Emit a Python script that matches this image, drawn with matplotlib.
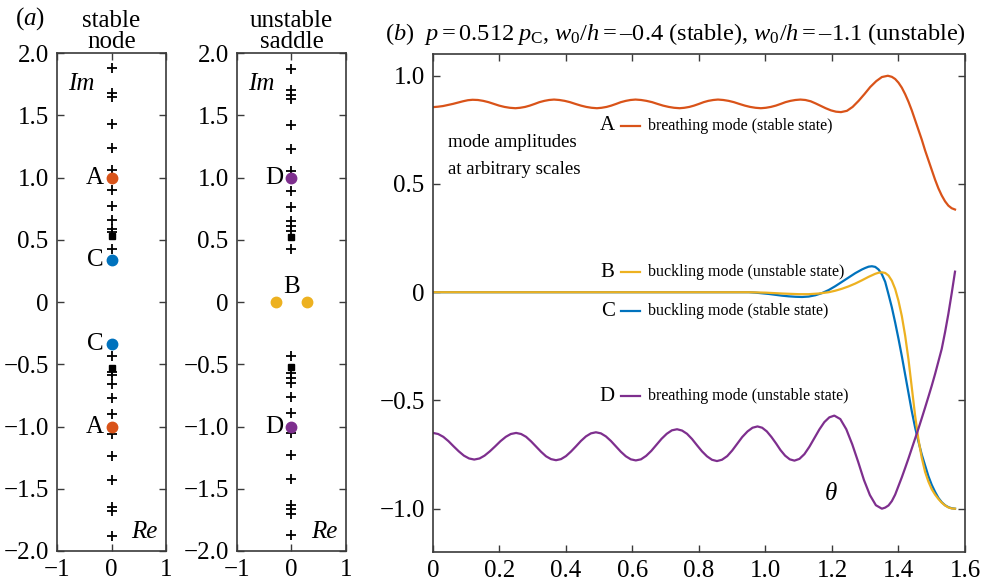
import matplotlib
matplotlib.use("Agg")
import matplotlib.pyplot as plt

plt.rcParams['font.family'] = ['Liberation Serif', 'DejaVu Serif']
plt.rcParams['mathtext.fontset'] = 'custom'
plt.rcParams['mathtext.rm'] = 'Liberation Serif'
plt.rcParams['mathtext.it'] = 'Liberation Serif:italic'

# colours (matlab defaults)
c_A = "#D95319"
c_B = "#EDB120"
c_C = "#0072BD"
c_D = "#7E2F8E"

# panel (a): imaginary parts of eigenvalues (conjugate pairs, Re = 0)
stable_plus = [1.88, 1.68, 1.65, 1.43, 1.24, 1.06, 0.90, 0.77, 0.66, 0.59, 0.56, 0.43]
stable_square = [0.53]
stable_A = [1.0]
stable_C = [0.335]

unstable_plus = [1.87, 1.70, 1.665, 1.63, 1.42, 1.23, 1.05, 0.89, 0.76, 0.65, 0.61, 0.57, 0.43]
unstable_square = [0.52]
unstable_D = [1.0]
unstable_B_re = [-0.29, 0.29]

# panel (b): mode shapes vs theta
th_A = [0.0, 0.015, 0.03, 0.045, 0.06, 0.075, 0.09, 0.105, 0.119,
        0.135, 0.151, 0.167, 0.183, 0.199, 0.215, 0.231, 0.248,
        0.262, 0.277, 0.291, 0.306, 0.320, 0.335, 0.349, 0.364,
        0.380, 0.396, 0.412, 0.428, 0.445, 0.461, 0.477, 0.493,
        0.507, 0.522, 0.536, 0.551, 0.565, 0.580, 0.594, 0.609,
        0.626, 0.642, 0.659, 0.675, 0.692, 0.709, 0.725, 0.742,
        0.756, 0.771, 0.785, 0.800, 0.814, 0.828, 0.843, 0.857,
        0.873, 0.889, 0.905, 0.921, 0.938, 0.954, 0.970, 0.986,
        1.001, 1.016, 1.031, 1.046, 1.060, 1.075, 1.090, 1.105,
        1.120, 1.136, 1.151, 1.166, 1.181, 1.197, 1.212, 1.227,
        1.245, 1.262, 1.280, 1.298, 1.315, 1.333, 1.350, 1.368,
        1.38, 1.39, 1.40, 1.41, 1.42, 1.43, 1.44, 1.45, 1.46, 1.47, 1.48, 1.49,
        1.50, 1.51, 1.52, 1.53, 1.54, 1.55, 1.56, 1.57]
amp_A = [0.855, 0.857, 0.860, 0.865, 0.870, 0.876, 0.882, 0.887, 0.889,
         0.888, 0.884, 0.878, 0.870, 0.862, 0.856, 0.852, 0.850,
         0.852, 0.856, 0.862, 0.870, 0.878, 0.884, 0.888, 0.890,
         0.888, 0.884, 0.878, 0.870, 0.862, 0.856, 0.852, 0.850,
         0.852, 0.856, 0.862, 0.870, 0.878, 0.884, 0.888, 0.890,
         0.888, 0.884, 0.878, 0.870, 0.862, 0.856, 0.852, 0.850,
         0.852, 0.856, 0.862, 0.870, 0.878, 0.884, 0.888, 0.890,
         0.888, 0.884, 0.878, 0.870, 0.862, 0.856, 0.852, 0.850,
         0.852, 0.856, 0.862, 0.870, 0.878, 0.884, 0.888, 0.890,
         0.888, 0.882, 0.872, 0.861, 0.850, 0.840, 0.834, 0.832,
         0.838, 0.856, 0.884, 0.916, 0.948, 0.975, 0.994, 1.000,
         0.995, 0.985, 0.968, 0.945, 0.915, 0.880, 0.840, 0.795, 0.750, 0.705, 0.655, 0.610,
         0.565, 0.520, 0.480, 0.447, 0.420, 0.400, 0.388, 0.382]

th_B = [0.0, 0.5, 0.95, 1.0, 1.05, 1.10, 1.13, 1.16, 1.19, 1.21, 1.23, 1.25, 1.27, 1.29, 1.31,
        1.33, 1.34, 1.35, 1.36, 1.37, 1.38, 1.39, 1.40, 1.41, 1.42, 1.43, 1.44, 1.45, 1.46,
        1.47, 1.48, 1.49, 1.50, 1.51, 1.52, 1.53, 1.54, 1.55, 1.56, 1.57]
amp_B = [0.0, 0.0, 0.0, -0.002, -0.006, -0.009, -0.009, -0.006, 0.0, 0.007, 0.016, 0.027, 0.040, 0.055, 0.071,
         0.085, 0.090, 0.092, 0.089, 0.077, 0.053, 0.015, -0.040, -0.110, -0.200, -0.310, -0.440, -0.570, -0.680,
         -0.765, -0.830, -0.875, -0.910, -0.935, -0.955, -0.972, -0.985, -0.994, -0.999, -1.0]

th_C = [0.0, 0.5, 0.95, 0.97, 0.99, 1.01, 1.03, 1.05, 1.07, 1.09, 1.11, 1.13, 1.15, 1.17, 1.19,
        1.21, 1.23, 1.25, 1.27, 1.29, 1.30, 1.31, 1.32, 1.33, 1.34, 1.35, 1.36, 1.37, 1.38,
        1.39, 1.40, 1.41, 1.42, 1.43, 1.44, 1.45, 1.46, 1.47, 1.48, 1.49, 1.50, 1.51, 1.52,
        1.53, 1.54, 1.55, 1.56, 1.57]
amp_C = [0.0, 0.0, 0.0, -0.002, -0.005, -0.008, -0.012, -0.016, -0.019, -0.021, -0.022, -0.020, -0.014, -0.004, 0.010,
         0.028, 0.048, 0.068, 0.088, 0.105, 0.112, 0.118, 0.120, 0.117, 0.105, 0.083, 0.048, -0.010, -0.070,
         -0.140, -0.215, -0.295, -0.380, -0.465, -0.550, -0.625, -0.690, -0.750, -0.800, -0.850, -0.890, -0.922, -0.950,
         -0.970, -0.984, -0.993, -0.998, -1.0]

th_D = [0.0, 0.0155, 0.031, 0.0465, 0.062, 0.0775, 0.093, 0.1085, 0.124,
        0.140, 0.155, 0.171, 0.187, 0.203, 0.219, 0.234, 0.25,
        0.265, 0.28, 0.295, 0.31, 0.325, 0.34, 0.355, 0.37,
        0.385, 0.40, 0.415, 0.43, 0.445, 0.46, 0.475, 0.49,
        0.505, 0.52, 0.535, 0.55, 0.565, 0.58, 0.595, 0.61,
        0.6255, 0.641, 0.6565, 0.672, 0.6875, 0.703, 0.7185, 0.734,
        0.749, 0.764, 0.779, 0.794, 0.809, 0.824, 0.839, 0.854,
        0.869, 0.885, 0.900, 0.915, 0.930, 0.946, 0.961, 0.976,
        0.990, 1.004, 1.018, 1.032, 1.045, 1.059, 1.073, 1.087,
        1.102, 1.117, 1.132, 1.147, 1.162, 1.177, 1.192, 1.207,
        1.225, 1.243, 1.261, 1.279, 1.296, 1.314, 1.332, 1.35,
        1.36, 1.37, 1.38, 1.39, 1.40, 1.41, 1.42, 1.43, 1.44, 1.45, 1.46, 1.47,
        1.48, 1.49, 1.50, 1.51, 1.52, 1.53, 1.54, 1.55, 1.56, 1.57]
amp_D = [-0.650, -0.655, -0.668, -0.688, -0.712, -0.735, -0.755, -0.768, -0.773,
         -0.768, -0.755, -0.735, -0.712, -0.688, -0.668, -0.655, -0.650,
         -0.655, -0.668, -0.689, -0.713, -0.737, -0.758, -0.771, -0.776,
         -0.771, -0.757, -0.736, -0.712, -0.687, -0.666, -0.652, -0.647,
         -0.652, -0.666, -0.687, -0.712, -0.737, -0.758, -0.772, -0.777,
         -0.772, -0.756, -0.733, -0.705, -0.677, -0.654, -0.638, -0.633,
         -0.639, -0.654, -0.678, -0.707, -0.735, -0.758, -0.774, -0.780,
         -0.774, -0.757, -0.731, -0.700, -0.669, -0.643, -0.626, -0.620,
         -0.626, -0.643, -0.669, -0.699, -0.729, -0.755, -0.772, -0.778,
         -0.770, -0.748, -0.714, -0.674, -0.634, -0.600, -0.578, -0.570,
         -0.586, -0.633, -0.703, -0.785, -0.867, -0.937, -0.984, -1.000,
         -0.995, -0.985, -0.965, -0.935, -0.895, -0.855, -0.812, -0.768, -0.722, -0.676, -0.630, -0.582,
         -0.533, -0.483, -0.432, -0.378, -0.320, -0.262, -0.185, -0.100, -0.005, 0.095]

legend_labels = ["breathing mode (stable state)", "buckling mode (unstable state)",
                 "buckling mode (stable state)", "breathing mode (unstable state)"]
legend_letters = ["A", "B", "C", "D"]
legend_y = [0.769, 0.093, -0.088, -0.48]

FS = 18
edge = "#3a3a3a"


def style(ax):
    for s in ax.spines.values():
        s.set_color(edge)
        s.set_linewidth(1.2)
    ax.tick_params(direction="in", top=True, right=True, length=5, width=1.0,
                   color=edge, labelsize=FS, pad=6)


fig = plt.figure(figsize=(9.87, 5.83), dpi=100)
axA = fig.add_axes([0.0578, 0.0549, 0.1104, 0.854])
axS = fig.add_axes([0.2401, 0.0549, 0.1104, 0.854])
axB = fig.add_axes([0.4387, 0.0532, 0.539, 0.854])

for ax in (axA, axS):
    style(ax)
    ax.set_xlim(-1, 1)
    ax.set_ylim(-2, 2)
    ax.set_xticks([-1, 0, 1])
    ax.set_xticklabels(["\u22121", "0", "1"])
    ax.set_yticks([-2, -1.5, -1, -0.5, 0, 0.5, 1, 1.5, 2])
    ax.set_yticklabels(["\u22122.0", "\u22121.5", "\u22121.0", "\u22120.5", "0", "0.5", "1.0", "1.5", "2.0"])
    ax.text(-0.8, 1.75, "Im", style="italic", fontsize=FS, ha="left", va="center")
    ax.text(0.85, -1.85, "Re", style="italic", fontsize=FS, ha="right", va="center")

# stable node
for sgn in (1, -1):
    axA.plot([0] * len(stable_plus), [sgn * v for v in stable_plus], "k+", ms=7, mew=1.3)
    axA.plot([0], [sgn * stable_square[0]], "ks", ms=5)
    axA.plot([0], [sgn * stable_A[0]], "o", color=c_A, ms=7.5)
    axA.plot([0], [sgn * stable_C[0]], "o", color=c_C, ms=7.5)
    axA.text(-0.15, sgn * stable_A[0], "A", fontsize=FS, ha="right", va="center")
    axA.text(-0.15, sgn * stable_C[0], "C", fontsize=FS, ha="right", va="center")

# unstable saddle
for sgn in (1, -1):
    axS.plot([0] * len(unstable_plus), [sgn * v for v in unstable_plus], "k+", ms=7, mew=1.3)
    axS.plot([0], [sgn * unstable_square[0]], "ks", ms=5)
    axS.plot([0], [sgn * unstable_D[0]], "o", color=c_D, ms=7.5)
    axS.text(-0.15, sgn * unstable_D[0], "D", fontsize=FS, ha="right", va="center")
axS.plot(unstable_B_re, [0, 0], "o", color=c_B, ms=7.5)
axS.text(0, 0.03, "B", fontsize=FS, ha="center", va="bottom")

fig.text(0.015, 0.957, r"($a$)", fontsize=FS, ha="left", va="baseline")
fig.text(0.113, 0.918, "stable\nnode", fontsize=FS, ha="center", va="baseline", linespacing=0.95)
fig.text(0.2955, 0.918, "unstable\nsaddle", fontsize=FS, ha="center", va="baseline", linespacing=0.95)

# panel b
style(axB)
axB.plot(th_A, amp_A, color=c_A, lw=1.6)
axB.plot(th_C, amp_C, color=c_C, lw=1.6)
axB.plot(th_B, amp_B, color=c_B, lw=1.6)
axB.plot(th_D, amp_D, color=c_D, lw=1.6)
axB.set_xlim(0, 1.6)
axB.set_ylim(-1.2, 1.1)
axB.set_xticks([0, 0.2, 0.4, 0.6, 0.8, 1.0, 1.2, 1.4, 1.6])
axB.set_xticklabels(["0", "0.2", "0.4", "0.6", "0.8", "1.0", "1.2", "1.4", "1.6"])
axB.set_yticks([-1, -0.5, 0, 0.5, 1])
axB.set_yticklabels(["\u22121.0", "\u22120.5", "0", "0.5", "1.0"])

colors = [c_A, c_B, c_C, c_D]
for letter, lab, y, c in zip(legend_letters, legend_labels, legend_y, colors):
    axB.text(0.546, y, letter, fontsize=15, ha="right", va="center")
    axB.plot([0.565, 0.623], [y, y], color=c, lw=1.6)
    axB.text(0.647, y, lab, fontsize=11.5, ha="left", va="center")

axB.text(0.045, 0.69, "mode amplitudes", fontsize=13.5, ha="left", va="center")
axB.text(0.045, 0.565, "at arbitrary scales", fontsize=13.5, ha="left", va="center")
axB.text(1.197, -0.93, r"$\theta$", fontsize=FS, ha="center", va="center")

fig.text(0.39, 0.932,
         r"($b$)  $p = 0.512\;p_\mathrm{C}$, $w_0/h = $–0.4 (stable), $w_0/h = $–1.1 (unstable)",
         fontsize=17.6, ha="left", va="baseline")

fig.savefig("out.png", dpi=100)
